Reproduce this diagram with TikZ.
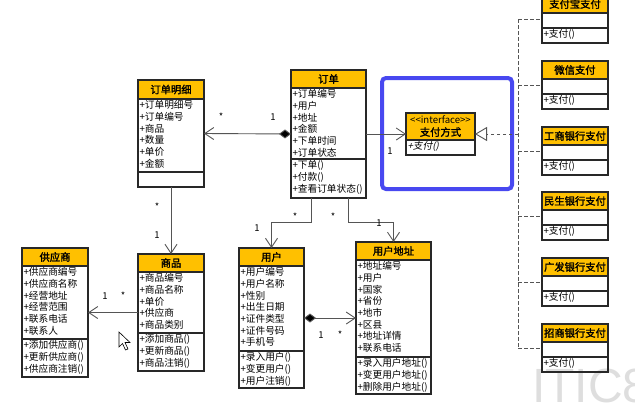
\documentclass[tikz,border=0pt]{standalone}
\usepackage{fontspec}
\setmainfont{Noto Sans CJK SC}[BoldFont={Noto Sans CJK SC},BoldFeatures={FakeBold=1.8},ItalicFont={Noto Sans CJK SC},ItalicFeatures={FakeSlant=0.2}]
\newfontfamily\wmfont{Liberation Sans}
\usetikzlibrary{arrows.meta}
\definecolor{hdrorange}{RGB}{255,192,0}
\definecolor{boxline}{RGB}{40,40,40}
\definecolor{conn}{RGB}{85,85,85}
\definecolor{hlblue}{RGB}{72,72,240}
\tikzset{
  clsbox/.style={inner sep=0pt, outer sep=0pt},
  clsline/.style={draw=boxline, line width=1.1pt},
  hdr/.style={fill=hdrorange},
  ttl/.style={inner sep=0pt, font=\fontsize{10.3}{12}\selectfont\bfseries},
  attr/.style={anchor=north west, inner xsep=1pt, inner ysep=1.3pt, align=left, font=\fontsize{9.7}{11.7}\selectfont},
  assoc/.style={draw=conn, line width=0.9pt, -{Straight Barb[length=9pt,width=12pt,line width=0.9pt]}},
  compo/.style={draw=conn, line width=0.9pt, {Diamond[length=12pt,width=9pt,fill=black]}-{Straight Barb[length=9pt,width=12pt,line width=0.9pt]}},
  realize/.style={draw=conn, line width=0.9pt, dash pattern=on 3.5pt off 2.5pt},
  lbl/.style={inner sep=0pt, font=\fontsize{9.5}{10}\selectfont},
}
\newcommand\umlcls[9]{%
  \node[clsbox, minimum width=#4pt, minimum height=#5pt, anchor=north west] (#1) at (#2,#3) {};
  \fill[hdr] (#1.north west) rectangle ([yshift=-#6pt]#1.north east);
  \draw[clsline] (#1.north west) rectangle (#1.south east);
  \draw[clsline] ([yshift=-#6pt]#1.north west) -- ([yshift=-#6pt]#1.north east);
  \draw[clsline] ([yshift=-#6pt-#7pt]#1.north west) -- ([yshift=-#6pt-#7pt]#1.north east);
  \node[ttl, align=center] (#1-t) at ([yshift=-0.5*#6pt]#1.north) {#8};
  \node[attr] (#1-a) at ([xshift=0.3pt,yshift=-#6pt]#1.north west) {#9};
  \coordinate (#1-o) at ([xshift=0.3pt,yshift=-#6pt-#7pt]#1.north west);
}
\newcommand\umlops[2]{\node[attr] (#1-m) at (#1-o) {#2};}
\begin{document}
\begin{tikzpicture}[x=1pt,y=-1pt]
\useasboundingbox (0,0) rectangle (635,402);
\clip (0,0) rectangle (635,402);
\fill[white] (0,0) rectangle (635,402);

% watermark
\node[anchor=base west, inner sep=0pt, text=black!13, font=\wmfont\fontsize{48}{48}\selectfont] (wm) at (532,402) {ITIC8};

% highlight
\draw[hlblue, line width=4pt, rounded corners=4pt] (382,78) rectangle (512,189);

% classes
\umlcls{dd}{138}{80}{66}{107}{19}{73}{订单明细}{+订单明细号\\+订单编号\\+商品\\+数量\\+单价\\+金额}
\umlcls{order}{291}{70}{75}{128}{18}{71}{订单}{+订单编号\\+用户\\+地址\\+金额\\+下单时间\\+订单状态}
\umlops{order}{+下单()\\+付款()\\+查看订单状态()}
\umlcls{pay}{406}{113}{69}{42}{27}{0}{{\fontsize{9.6}{11}\selectfont\mdseries <{}<interface>{}>}\\支付方式}{}
\umlops{pay}{\itshape +支付()}
\umlcls{sup}{22}{248}{66}{129}{18}{73}{供应商}{+供应商编号\\+供应商名称\\+经营地址\\+经营范围\\+联系电话\\+联系人}
\umlops{sup}{+添加供应商()\\+更新供应商()\\+供应商注销()}
\umlcls{goods}{138}{254}{66}{117}{18}{61}{商品}{+商品编号\\+商品名称\\+单价\\+供应商\\+商品类别}
\umlops{goods}{+添加商品()\\+更新商品()\\+商品注销()}
\umlcls{user}{239}{248}{65}{140}{18}{85}{用户}{+用户编号\\+用户名称\\+性别\\+出生日期\\+证件类型\\+证件号码\\+手机号}
\umlops{user}{+录入用户()\\+变更用户()\\+用户注销()}
\umlcls{addr}{356}{242}{75}{152}{18}{97}{用户地址}{+地址编号\\+用户\\+国家\\+省份\\+地市\\+区县\\+地址详情\\+联系电话}
\umlops{addr}{+录入用户地址()\\+变更用户地址()\\+删除用户地址()}

\umlcls{zfb}{542}{-5}{66}{48}{18}{15}{支付宝支付}{}
\umlops{zfb}{+支付()}
\umlcls{wx}{542}{61}{66}{48}{18}{15}{微信支付}{}
\umlops{wx}{+支付()}
\umlcls{gh}{542}{127}{66}{48}{18}{15}{工商银行支付}{}
\umlops{gh}{+支付()}
\umlcls{ms}{542}{192}{66}{48}{18}{15}{民生银行支付}{}
\umlops{ms}{+支付()}
\umlcls{gf}{542}{258}{66}{48}{18}{15}{广发银行支付}{}
\umlops{gf}{+支付()}
\umlcls{zs}{542}{324}{66}{48}{18}{15}{招商银行支付}{}
\umlops{zs}{+支付()}

% connectors
\draw[compo] (order.west) -- (dd.east);
\draw[assoc] (order.east) -- (pay.west);
\draw[assoc] (dd.south) -- (goods.north);
\draw[assoc] (goods.west) -- (sup.east);
\draw[assoc] ([xshift=-17.5pt]order.south) -- ++(0,24) -| (user.north);
\draw[assoc] ([xshift=19.5pt]order.south) -- ++(0,24) -| (addr.north);
\draw[compo] (user.east) -- (addr.west);

% realization
\coordinate (bus) at (518,134);
\draw[realize] (zfb.west -| bus) -- (zs.west -| bus);
\foreach \b in {zfb,wx,gh,ms,gf,zs} \draw[realize] (\b.west -| bus) -- (\b.west);
\draw[realize, -{Triangle[open,length=12pt,width=14pt,fill=white,line width=0.9pt]}] (bus) -- (pay.east);

% multiplicities
\node[lbl] (m1) at (221,117) {*};
\node[lbl] (m2) at (273,117) {1};
\node[lbl] (m3) at (390,151) {1};
\node[lbl] (m4) at (157,207) {*};
\node[lbl] (m5) at (157,235) {1};
\node[lbl] (m6) at (105,296) {1};
\node[lbl] (m7) at (123,296) {*};
\node[lbl] (m8) at (295,217) {*};
\node[lbl] (m9) at (257,228) {1};
\node[lbl] (m10) at (333,217) {*};
\node[lbl] (m11) at (379,223) {1};
\node[lbl] (m12) at (321,335) {1};
\node[lbl] (m13) at (340,335) {*};

% mouse cursor
\draw[fill=white, line width=0.6pt, line join=miter] (119,332) -- (119,347) -- (122.5,343.5) -- (125.5,350) -- (128,349) -- (125,342.5) -- (130,342.5) -- cycle;
\end{tikzpicture}
\end{document}
